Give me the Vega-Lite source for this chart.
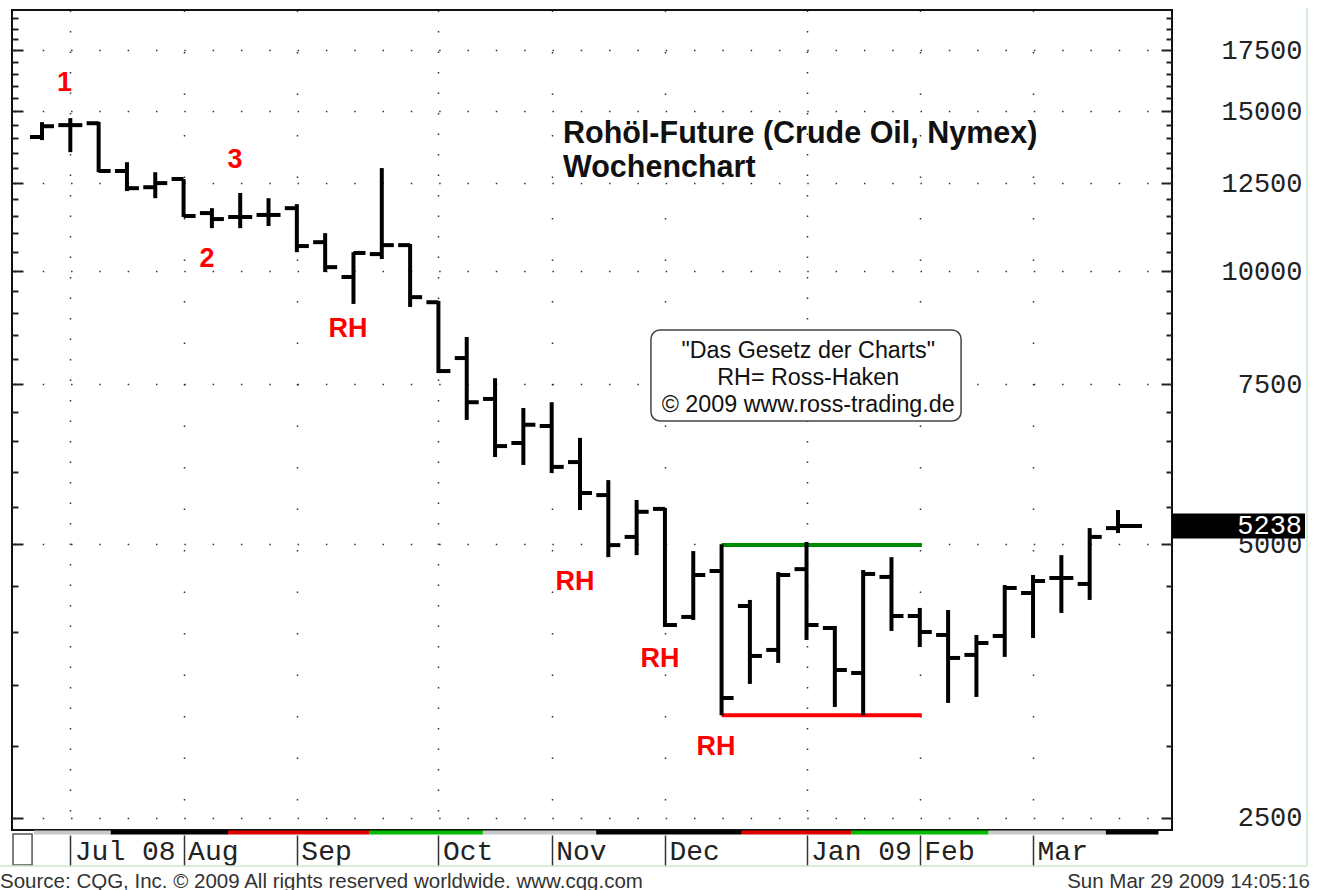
{
  "$schema": "https://vega.github.io/schema/vega-lite/v6.json",
  "width": 1160,
  "height": 820,
  "autosize": {"type": "none"},
  "padding": {"left": 12, "top": 10, "right": 150, "bottom": 60},
  "background": "white",
  "config": {
    "view": {"stroke": "#111", "strokeWidth": 2},
    "axis": {"grid": false}
  },
  "resolve": {"axis": {"x": "independent", "y": "independent"}, "scale": {"color": "independent"}},
  "datasets": {
    "ohlc": [
      {"date": "2008-06-30", "open": 14050, "high": 14590, "low": 13940, "close": 14440},
      {"date": "2008-07-07", "open": 14480, "high": 14740, "low": 13520, "close": 14480},
      {"date": "2008-07-14", "open": 14550, "high": 14600, "low": 12850, "close": 12890},
      {"date": "2008-07-21", "open": 12890, "high": 13180, "low": 12250, "close": 12340},
      {"date": "2008-07-28", "open": 12370, "high": 12850, "low": 12030, "close": 12500},
      {"date": "2008-08-04", "open": 12630, "high": 12630, "low": 11470, "close": 11500},
      {"date": "2008-08-11", "open": 11585, "high": 11730, "low": 11150, "close": 11410},
      {"date": "2008-08-18", "open": 11470, "high": 12190, "low": 11150, "close": 11470},
      {"date": "2008-08-25", "open": 11530, "high": 12030, "low": 11210, "close": 11530},
      {"date": "2008-09-01", "open": 11730, "high": 11850, "low": 10490, "close": 10655},
      {"date": "2008-09-08", "open": 10760, "high": 11010, "low": 9975, "close": 10100},
      {"date": "2008-09-15", "open": 9850, "high": 10490, "low": 9200, "close": 10470},
      {"date": "2008-09-22", "open": 10440, "high": 12985, "low": 10310, "close": 10680},
      {"date": "2008-09-29", "open": 10680, "high": 10710, "low": 9130, "close": 9360},
      {"date": "2008-10-06", "open": 9240, "high": 9270, "low": 7720, "close": 7760},
      {"date": "2008-10-13", "open": 8020, "high": 8460, "low": 6855, "close": 7170},
      {"date": "2008-10-20", "open": 7230, "high": 7620, "low": 6240, "close": 6415},
      {"date": "2008-10-27", "open": 6465, "high": 7065, "low": 6115, "close": 6770},
      {"date": "2008-11-03", "open": 6750, "high": 7170, "low": 5990, "close": 6085},
      {"date": "2008-11-10", "open": 6160, "high": 6550, "low": 5455, "close": 5695},
      {"date": "2008-11-17", "open": 5665, "high": 5885, "low": 4840, "close": 4990},
      {"date": "2008-11-24", "open": 5095, "high": 5595, "low": 4865, "close": 5430},
      {"date": "2008-12-01", "open": 5470, "high": 5485, "low": 4054, "close": 4075},
      {"date": "2008-12-08", "open": 4159, "high": 4915, "low": 4127, "close": 4626},
      {"date": "2008-12-15", "open": 4673, "high": 5000, "low": 3240, "close": 3386},
      {"date": "2008-12-22", "open": 4276, "high": 4342, "low": 3509, "close": 3767},
      {"date": "2008-12-29", "open": 3825, "high": 4660, "low": 3701, "close": 4626},
      {"date": "2009-01-05", "open": 4695, "high": 5030, "low": 3923, "close": 4075},
      {"date": "2009-01-12", "open": 4044, "high": 4065, "low": 3310, "close": 3635},
      {"date": "2009-01-19", "open": 3608, "high": 4685, "low": 3240, "close": 4638},
      {"date": "2009-01-26", "open": 4603, "high": 4840, "low": 4014, "close": 4169},
      {"date": "2009-02-02", "open": 4169, "high": 4255, "low": 3854, "close": 4003},
      {"date": "2009-02-09", "open": 3973, "high": 4233, "low": 3344, "close": 3748},
      {"date": "2009-02-16", "open": 3777, "high": 3973, "low": 3395, "close": 3893},
      {"date": "2009-02-23", "open": 3963, "high": 4510, "low": 3758, "close": 4476},
      {"date": "2009-03-02", "open": 4419, "high": 4626, "low": 3943, "close": 4556},
      {"date": "2009-03-09", "open": 4591, "high": 4865, "low": 4201, "close": 4591},
      {"date": "2009-03-16", "open": 4522, "high": 5210, "low": 4342, "close": 5095},
      {"date": "2009-03-23", "open": 5210, "high": 5455, "low": 5145, "close": 5238}
    ],
    "last": [{"date": "2009-03-23", "close": 5238}],
    "one": [{}],
    "strip": [
      {"start": "2008-06-28", "end": "2008-07-17", "contract": "Aug 08"},
      {"start": "2008-07-17", "end": "2008-08-15", "contract": "Sep 08"},
      {"start": "2008-08-15", "end": "2008-09-19", "contract": "Oct 08"},
      {"start": "2008-09-19", "end": "2008-10-17", "contract": "Nov 08"},
      {"start": "2008-10-17", "end": "2008-11-14", "contract": "Dec 08"},
      {"start": "2008-11-14", "end": "2008-12-20", "contract": "Jan 09"},
      {"start": "2008-12-20", "end": "2009-01-16", "contract": "Feb 09"},
      {"start": "2009-01-16", "end": "2009-02-19", "contract": "Mar 09"},
      {"start": "2009-02-19", "end": "2009-03-20", "contract": "Apr 09"},
      {"start": "2009-03-20", "end": "2009-04-02", "contract": "May 09"}
    ],
    "levels": [
      {"start": "2008-12-15", "end": "2009-02-02T12:00:00Z", "price": 4990, "kind": "Widerstand"},
      {"start": "2008-12-15", "end": "2009-02-02T12:00:00Z", "price": 3240, "kind": "Unterstützung"}
    ],
    "notes": [
      {"date": "2008-07-05T13:00:00Z", "price": 16130, "label": "1"},
      {"date": "2008-08-09T19:00:00Z", "price": 10310, "label": "2"},
      {"date": "2008-08-16T17:00:00Z", "price": 13240, "label": "3"},
      {"date": "2008-09-13T16:00:00Z", "price": 8630, "label": "RH"},
      {"date": "2008-11-08T19:00:00Z", "price": 4545, "label": "RH"},
      {"date": "2008-11-29T19:00:00Z", "price": 3739, "label": "RH"},
      {"date": "2008-12-13T15:00:00Z", "price": 2990, "label": "RH"}
    ],
    "title": [
      {"date": "2008-11-05T19:00:00Z", "price": 13836, "line": "Rohöl-Future (Crude Oil, Nymex)"},
      {"date": "2008-11-05T19:00:00Z", "price": 12688, "line": "Wochenchart"}
    ],
    "info": [
      {"date": "2009-01-05T10:00:00Z", "price": 8020, "line": "\"Das Gesetz der Charts\""},
      {"date": "2009-01-05T10:00:00Z", "price": 7489, "line": "RH= Ross-Haken"},
      {"date": "2009-01-05T10:00:00Z", "price": 6994, "line": "© 2009 www.ross-trading.de"}
    ],
    "footL": [{"date": "2008-06-19T15:00:00Z", "price": 2091, "line": "Source: CQG, Inc. © 2009 All rights reserved worldwide. www.cqg.com"}],
    "footR": [{"date": "2009-05-09T11:00:00Z", "price": 2091, "line": "Sun Mar 29 2009 14:05:16"}]
  },
  "layer": [
    {
      "data": {"name": "strip"},
      "mark": {"type": "rule", "strokeWidth": 4},
      "encoding": {
        "x": {"field": "start", "type": "temporal", "title": null,
              "scale": {"type": "utc", "nice": false, "domain": [{"year": 2008, "month": 6, "date": 22, "hours": 14, "utc": true}, {"year": 2009, "month": 4, "date": 5, "hours": 8, "minutes": 24, "utc": true}]},
              "axis": {
                "orient": "bottom", "title": null, "offset": 5, "domain": false,
                "values": [
                  {"year": 2008, "month": 7, "date": 7, "utc": true},
                  {"year": 2008, "month": 8, "date": 4, "utc": true},
                  {"year": 2008, "month": 9, "date": 1, "utc": true},
                  {"year": 2008, "month": 10, "date": 6, "utc": true},
                  {"year": 2008, "month": 11, "date": 3, "utc": true},
                  {"year": 2008, "month": 12, "date": 1, "utc": true},
                  {"year": 2009, "month": 1, "date": 5, "utc": true},
                  {"year": 2009, "month": 2, "date": 2, "utc": true},
                  {"year": 2009, "month": 3, "date": 2, "utc": true}
                ],
                "labelExpr": "utcmonth(datum.value) == 0 || utcmonth(datum.value) == 6 ? utcFormat(datum.value, '%b %y') : utcFormat(datum.value, '%b')",
                "tickSize": 31, "tickWidth": 1.5, "tickColor": "#333",
                "labelAlign": "left", "labelBaseline": "middle", "labelPadding": -15, "labelOffset": 4,
                "labelFont": "Liberation Mono", "labelFontSize": 28, "labelColor": "#222",
                "labelFlush": false, "labelOverlap": false, "labelBound": false,
                "grid": true, "gridColor": "#333", "gridWidth": 1.5,
                "gridDash": {"condition": {"test": "utcmonth(datum.value) % 3 == 0", "value": [1.5, 19]}, "value": [1.5, 40]}
              }},
        "x2": {"field": "end"},
        "y": {"datum": 2407, "type": "quantitative", "axis": null, "scale": {"type": "log", "nice": false, "domain": [2422.5, 19391]}},
        "color": {"field": "contract", "type": "nominal", "legend": null,
                  "scale": {"domain": ["Aug 08", "Sep 08", "Oct 08", "Nov 08", "Dec 08", "Jan 09", "Feb 09", "Mar 09", "Apr 09", "May 09"],
                            "range": ["#c8c8c8", "#000000", "#dd0000", "#00bb00", "#c8c8c8", "#000000", "#dd0000", "#00bb00", "#c8c8c8", "#000000"]}}
      }
    },
    {
      "data": {"name": "one"},
      "mark": {"type": "rect", "fill": "white", "stroke": "#555", "strokeWidth": 1.5},
      "encoding": {
        "x": {"datum": {"year": 2008, "month": 6, "date": 22, "hours": 20, "utc": true}, "type": "temporal", "axis": null},
        "x2": {"datum": {"year": 2008, "month": 6, "date": 27, "hours": 13, "utc": true}},
        "y": {"datum": 2398, "type": "quantitative", "axis": null},
        "y2": {"datum": 2217}
      }
    },
    {
      "data": {"name": "one"},
      "mark": {"type": "rule", "color": "#cfe6cf", "strokeWidth": 1.5},
      "encoding": {
        "x": {"datum": {"year": 2009, "month": 5, "date": 8, "hours": 17, "utc": true}, "type": "temporal", "axis": null},
        "y": {"datum": 19490, "type": "quantitative", "axis": null},
        "y2": {"datum": 2211}
      }
    },
    {
      "data": {"name": "one"},
      "mark": {"type": "rule", "color": "#cfe6cf", "strokeWidth": 1.5},
      "encoding": {
        "x": {"datum": {"year": 2008, "month": 6, "date": 19, "hours": 15, "utc": true}, "type": "temporal", "axis": null},
        "x2": {"datum": {"year": 2009, "month": 5, "date": 8, "hours": 17, "utc": true}},
        "y": {"datum": 2211, "type": "quantitative", "axis": null}
      }
    },
    {
      "data": {"name": "levels"},
      "mark": {"type": "rule", "strokeWidth": 4},
      "encoding": {
        "x": {"field": "start", "type": "temporal", "axis": null},
        "x2": {"field": "end"},
        "y": {"field": "price", "type": "quantitative", "axis": null},
        "color": {"field": "kind", "type": "nominal", "legend": null,
                  "scale": {"domain": ["Widerstand", "Unterstützung"], "range": ["#008a00", "#ff0000"]}}
      }
    },
    {
      "data": {"name": "one"},
      "mark": {"type": "rect", "fill": "white", "stroke": "#444", "strokeWidth": 1.5, "cornerRadius": 9},
      "encoding": {
        "x": {"datum": {"year": 2008, "month": 11, "date": 27, "hours": 13, "utc": true}, "type": "temporal", "axis": null},
        "x2": {"datum": {"year": 2009, "month": 2, "date": 12, "hours": 5, "utc": true}},
        "y": {"datum": 8612, "type": "quantitative", "axis": null},
        "y2": {"datum": 6836}
      }
    },
    {
      "data": {"name": "info"},
      "mark": {"type": "text", "font": "Liberation Sans", "fontSize": 23.3, "align": "center", "baseline": "alphabetic", "color": "#111"},
      "encoding": {
        "x": {"field": "date", "type": "temporal", "axis": null},
        "y": {"field": "price", "type": "quantitative", "axis": null},
        "text": {"field": "line"}
      }
    },
    {
      "data": {"name": "title"},
      "mark": {"type": "text", "font": "Liberation Sans", "fontSize": 30.5, "fontWeight": "bold", "align": "left", "baseline": "alphabetic", "color": "#111"},
      "encoding": {
        "x": {"field": "date", "type": "temporal", "axis": null},
        "y": {"field": "price", "type": "quantitative", "axis": null},
        "text": {"field": "line"}
      }
    },
    {
      "data": {"name": "ohlc"},
      "mark": {"type": "rule", "strokeWidth": 4, "color": "#000"},
      "encoding": {
        "x": {"field": "date", "type": "temporal", "axis": null},
        "y": {"field": "low", "type": "quantitative", "title": null,
              "axis": {"orient": "left", "title": null, "values": [2500, 5000, 7500, 10000, 12500, 15000, 17500],
                       "tickSize": -11, "tickWidth": 2, "tickColor": "#222", "labels": false, "domain": false,
                       "grid": true, "gridDash": [1.5, 26.816], "gridDashOffset": 26.4, "gridColor": "#333", "gridWidth": 1.5}},
        "y2": {"field": "high"}
      }
    },
    {
      "data": {"name": "ohlc"},
      "mark": {"type": "tick", "orient": "horizontal", "size": 12, "thickness": 4, "xOffset": -6, "color": "#000", "opacity": 1},
      "encoding": {
        "x": {"field": "date", "type": "temporal", "axis": null},
        "y": {"field": "open", "type": "quantitative", "title": null,
              "axis": {"orient": "left", "title": null,
                       "values": [3000, 3500, 4000, 4500, 5500, 6000, 6500, 7000, 8000, 8500, 9000, 9500, 10500, 11000, 11500, 12000, 13000, 13500, 14000, 14500, 15500, 16000, 16500, 17000, 18000, 18500, 19000],
                       "tickSize": -6, "tickWidth": 2, "tickColor": "#222", "labels": false, "domain": false, "grid": false}}
      }
    },
    {
      "data": {"name": "ohlc"},
      "mark": {"type": "tick", "orient": "horizontal", "size": 12, "thickness": 4, "xOffset": 6, "color": "#000", "opacity": 1},
      "encoding": {
        "x": {"field": "date", "type": "temporal", "axis": null},
        "y": {"field": "close", "type": "quantitative", "title": null,
              "axis": {"orient": "right", "title": null,
                       "values": [3000, 3500, 4000, 4500, 5500, 6000, 6500, 7000, 8000, 8500, 9000, 9500, 10500, 11000, 11500, 12000, 13000, 13500, 14000, 14500, 15500, 16000, 16500, 17000, 18000, 18500, 19000],
                       "tickSize": -6, "tickWidth": 2, "tickColor": "#222", "labels": false, "domain": false, "grid": false}}
      }
    },
    {
      "data": {"name": "last"},
      "mark": {"type": "tick", "orient": "horizontal", "size": 24, "thickness": 4, "xOffset": 12, "color": "#000", "opacity": 1},
      "encoding": {
        "x": {"field": "date", "type": "temporal", "axis": null},
        "y": {"field": "close", "type": "quantitative", "axis": null}
      }
    },
    {
      "data": {"name": "notes"},
      "mark": {"type": "text", "font": "Liberation Sans", "fontSize": 27, "fontWeight": "bold", "align": "center", "baseline": "middle", "color": "#ff0000"},
      "encoding": {
        "x": {"field": "date", "type": "temporal", "axis": null},
        "y": {"field": "price", "type": "quantitative", "title": null,
              "axis": {"orient": "right", "title": null, "values": [2500, 5000, 7500, 10000, 12500, 15000, 17500], "format": "d",
                       "tickSize": -11, "tickWidth": 2, "tickColor": "#222", "domain": false, "grid": false,
                       "labelPadding": 141, "labelAlign": "right", "labelBaseline": "middle",
                       "labelFont": "Liberation Mono", "labelFontSize": 27, "labelColor": "#222",
                       "labelFlush": false, "labelOverlap": false, "labelBound": false}},
        "text": {"field": "label"}
      }
    },
    {
      "data": {"name": "last"},
      "mark": {"type": "rule", "strokeWidth": 25, "color": "#000"},
      "encoding": {
        "x": {"datum": {"year": 2009, "month": 4, "date": 5, "hours": 8, "minutes": 24, "utc": true}, "type": "temporal", "axis": null},
        "x2": {"datum": {"year": 2009, "month": 5, "date": 8, "hours": 5, "minutes": 30, "utc": true}},
        "y": {"field": "close", "type": "quantitative", "axis": null}
      }
    },
    {
      "data": {"name": "last"},
      "mark": {"type": "text", "font": "Liberation Mono", "fontSize": 27, "align": "right", "baseline": "middle", "color": "white"},
      "encoding": {
        "x": {"datum": {"year": 2009, "month": 5, "date": 7, "hours": 12, "utc": true}, "type": "temporal", "axis": null},
        "y": {"field": "close", "type": "quantitative", "axis": null},
        "text": {"field": "close", "type": "quantitative", "format": "d"}
      }
    },
    {
      "data": {"name": "footL"},
      "mark": {"type": "text", "font": "Liberation Sans", "fontSize": 20.5, "align": "left", "baseline": "alphabetic", "color": "#333"},
      "encoding": {
        "x": {"field": "date", "type": "temporal", "axis": null},
        "y": {"field": "price", "type": "quantitative", "axis": null},
        "text": {"field": "line"}
      }
    },
    {
      "data": {"name": "footR"},
      "mark": {"type": "text", "font": "Liberation Sans", "fontSize": 20.5, "align": "right", "baseline": "alphabetic", "color": "#333"},
      "encoding": {
        "x": {"field": "date", "type": "temporal", "axis": null},
        "y": {"field": "price", "type": "quantitative", "axis": null},
        "text": {"field": "line"}
      }
    }
  ]
}
